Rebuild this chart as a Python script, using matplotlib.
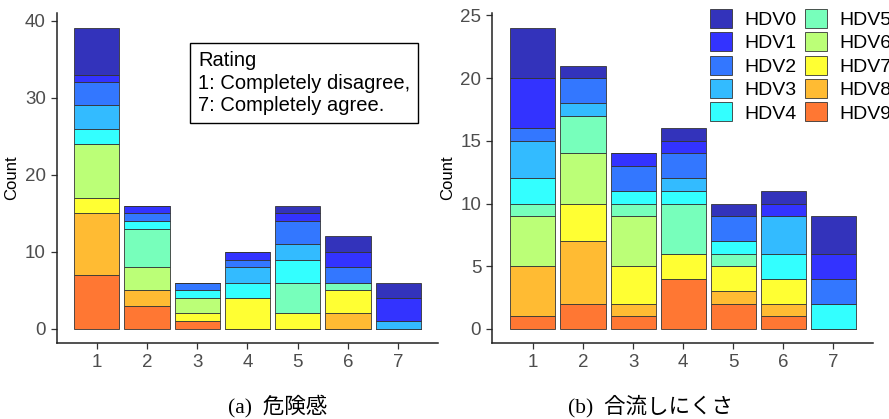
import numpy as np
import matplotlib.pyplot as plt
from matplotlib.patches import Patch

plt.rcParams['font.family'] = ['Liberation Sans', 'DejaVu Sans']

ratings = [1, 2, 3, 4, 5, 6, 7]
labels = ['HDV0', 'HDV1', 'HDV2', 'HDV3', 'HDV4',
          'HDV5', 'HDV6', 'HDV7', 'HDV8', 'HDV9']
colors = ['#3333bb', '#3333ff', '#3377ff', '#33bbff', '#33ffff',
          '#77ffbb', '#bbff77', '#ffff33', '#ffbb33', '#ff7733']

# counts per rating (1..7) for each HDV, panel (a) 危険感
danger = {
    'HDV0': [6, 0, 0, 0, 1, 2, 2],
    'HDV1': [1, 1, 0, 1, 1, 2, 3],
    'HDV2': [3, 1, 1, 1, 3, 2, 0],
    'HDV3': [3, 0, 0, 2, 2, 0, 1],
    'HDV4': [2, 1, 1, 2, 3, 0, 0],
    'HDV5': [0, 5, 0, 0, 4, 1, 0],
    'HDV6': [7, 3, 2, 0, 0, 0, 0],
    'HDV7': [2, 0, 1, 4, 2, 3, 0],
    'HDV8': [8, 2, 0, 0, 0, 2, 0],
    'HDV9': [7, 3, 1, 0, 0, 0, 0],
}

# panel (b) 合流しにくさ
merge = {
    'HDV0': [4, 1, 0, 1, 1, 1, 3],
    'HDV1': [4, 0, 1, 1, 0, 1, 2],
    'HDV2': [1, 2, 2, 2, 2, 0, 2],
    'HDV3': [3, 1, 0, 1, 0, 3, 0],
    'HDV4': [2, 0, 1, 1, 1, 2, 2],
    'HDV5': [1, 3, 1, 4, 1, 0, 0],
    'HDV6': [4, 4, 4, 0, 0, 0, 0],
    'HDV7': [0, 3, 3, 2, 2, 2, 0],
    'HDV8': [4, 5, 1, 0, 1, 1, 0],
    'HDV9': [1, 2, 1, 4, 2, 1, 0],
}

fig = plt.figure(figsize=(8.89, 4.19), dpi=100)
ax1 = fig.add_axes([0.0641, 0.182, 0.4286, 0.787])
ax2 = fig.add_axes([0.5538, 0.182, 0.4282, 0.787])

edge = (0.2, 0.2, 0.2, 0.85)


def stack(ax, data):
    bottom = np.zeros(len(ratings))
    # HDV9 at the bottom, HDV0 on top
    for lab, col in zip(labels[::-1], colors[::-1]):
        vals = np.array(data[lab], dtype=float)
        ax.bar(ratings, vals, bottom=bottom, width=0.9, color=col,
               edgecolor=edge, linewidth=0.7)
        bottom += vals
    for s in ['top', 'right']:
        ax.spines[s].set_visible(False)
    for s in ['left', 'bottom']:
        ax.spines[s].set_linewidth(1.1)
        ax.spines[s].set_color('#222222')
    ax.set_xticks(ratings)
    ax.tick_params(axis='both', colors='#333333', labelcolor='#4d4d4d',
                   labelsize=13.5, length=4, width=0.9, pad=4)
    ax.set_ylabel('Count', fontsize=12, color='black', labelpad=4)


stack(ax1, danger)
ax1.set_xlim(0.21, 7.79)
ax1.set_ylim(-1.8, 41.0)
ax1.set_yticks([0, 10, 20, 30, 40])

stack(ax2, merge)
ax2.set_xlim(0.19, 7.79)
ax2.set_ylim(-1.1, 25.2)
ax2.set_yticks([0, 5, 10, 15, 20, 25])

ax1.text(0.370, 0.884, 'Rating\n1: Completely disagree,\n7: Completely agree.',
         transform=ax1.transAxes, fontsize=14.5, va='top', ha='left',
         linespacing=1.22,
         bbox=dict(boxstyle='square,pad=0.4', facecolor='white',
                   edgecolor='black', linewidth=1.0))

handles = [Patch(facecolor=c, edgecolor=edge, linewidth=0.7) for c in colors]
fig.legend(handles, labels, ncol=2, loc='upper left',
           bbox_to_anchor=(710 / 889, 1 - 9 / 419), frameon=False,
           fontsize=14, handlelength=1.15, handleheight=1.12,
           handletextpad=0.6, columnspacing=0.45, labelspacing=0.17,
           borderpad=0, borderaxespad=0)

cap_font = ['Liberation Serif', 'Noto Sans CJK JP']
fig.text(278 / 889, 1 - 406 / 419, '(a)  危険感', ha='center', va='center',
         fontsize=15.5, family=cap_font)
fig.text(650 / 889, 1 - 406 / 419, '(b)  合流しにくさ', ha='center', va='center',
         fontsize=15.5, family=cap_font)

fig.savefig('out.png', dpi=100)
